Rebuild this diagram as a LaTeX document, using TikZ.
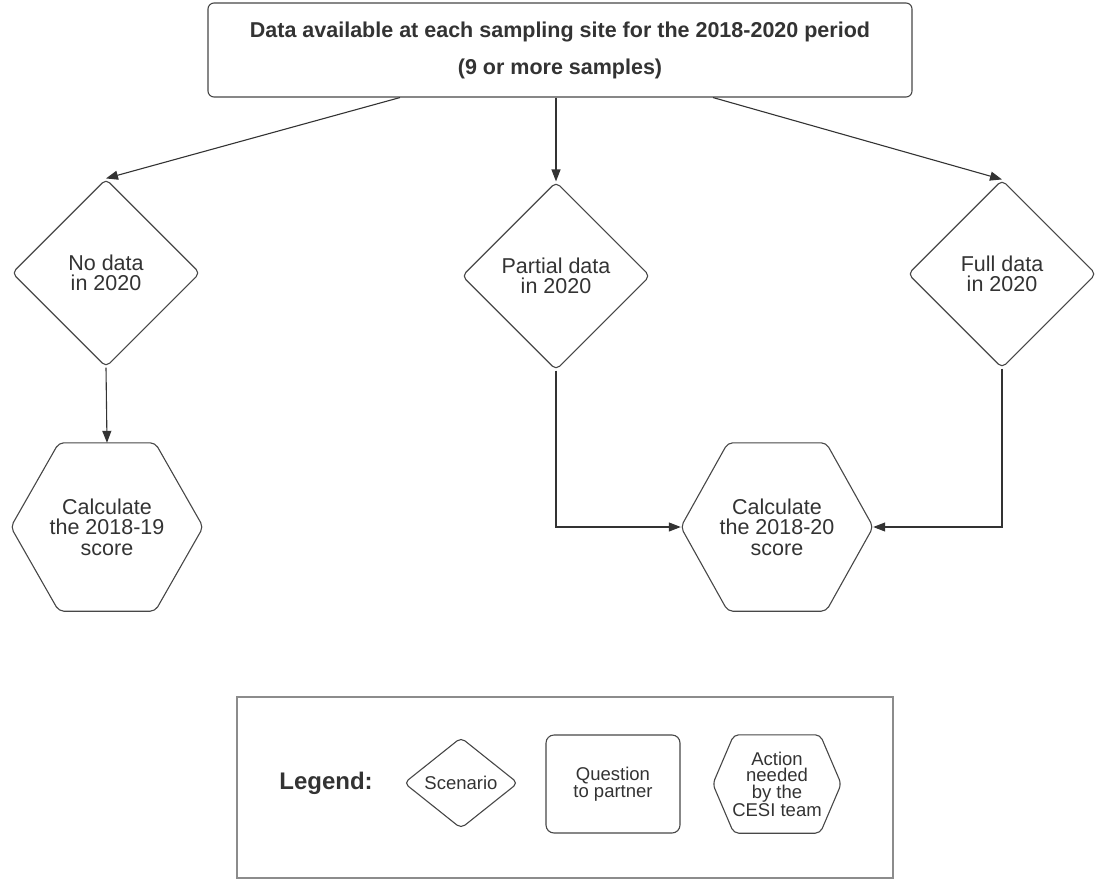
\documentclass[tikz,border=0pt]{standalone}
\usepackage{fontspec}
\setmainfont{Liberation Sans}
\usetikzlibrary{shapes.geometric,arrows.meta}
\definecolor{ink}{HTML}{333333}
\definecolor{frame}{HTML}{8C8C8C}
\begin{document}
\begin{tikzpicture}[
    x=1pt,y=-1pt,
    shape line/.style={draw=ink!90,line width=1.1pt,text=ink},
    topbox/.style={shape line,rectangle,rounded corners=6pt,align=center,
        minimum width=704pt,minimum height=94pt,inner sep=0pt,
        font=\bfseries\fontsize{21.5pt}{37pt}\selectfont},
    scenario/.style={shape line,diamond,rounded corners=5pt,align=center,
        minimum width=188pt,minimum height=188pt,inner sep=0pt,
        font=\fontsize{21.5pt}{20pt}\selectfont},
    action/.style={rectangle,align=center,text=ink,
        minimum width=192pt,minimum height=168pt,inner sep=0pt,
        font=\fontsize{21.5pt}{20.5pt}\selectfont},
    small/.style={font=\fontsize{18.5pt}{16.5pt}\selectfont},
    flow/.style={draw=ink,line width=1.1pt,-{Triangle[length=12pt,width=9pt]}}
]
\useasboundingbox (0,0) rectangle (1099,880);

% main chart
\node[topbox] (top) at (560,50) {Data available at each sampling site for the 2018-2020 period\\(9 or more samples)};

\node[scenario] (ld) at (106,273) {No data\\in 2020};
\node[scenario] (md) at (556,276) {Partial data\\in 2020};
\node[scenario] (rd) at (1002,274) {Full data\\in 2020};

\node[action] (lh) at (107,527) {Calculate\\the 2018-19\\score};
\node[action] (rh) at (777,527) {Calculate\\the 2018-20\\score};

\draw[flow] ([xshift=-160pt]top.south) -- (ld.north);
\draw[flow] (top.south -| md.north) -- (md.north);
\draw[flow] ([xshift=153pt]top.south) -- (rd.north);
\draw[flow] (ld.south) -- (lh.north);
\draw[flow] (md.south) |- (rh.west);
\draw[flow] (rd.south) |- (rh.east);

% legend
\node[draw=frame,line width=2pt,minimum width=656pt,minimum height=181pt] (legend) at (565,787.5) {};
\node[text=ink,font=\bfseries\fontsize{24pt}{24pt}\selectfont] (legtitle) at (326,783) {Legend:};
\node[scenario,small,minimum width=114pt,minimum height=91pt] (legscen) at (461,783) {Scenario};
\node[shape line,small,rectangle,rounded corners=8pt,align=center,
    minimum width=134pt,minimum height=98pt] (legquest) at (613,784) {Question\\to partner};
\node[action,small,minimum width=128pt,minimum height=98pt] (legact) at (777,784) {Action\\needed\\by the\\CESI team};

% hexagon outlines
\foreach \n/\c in {lh/48pt,rh/47pt,legact/21pt}
    \draw[shape line,rounded corners=5pt] (\n.west) -- ([xshift=\c]\n.north west)
        -- ([xshift=-\c]\n.north east) -- (\n.east) -- ([xshift=-\c]\n.south east)
        -- ([xshift=\c]\n.south west) -- cycle;
\end{tikzpicture}
\end{document}
